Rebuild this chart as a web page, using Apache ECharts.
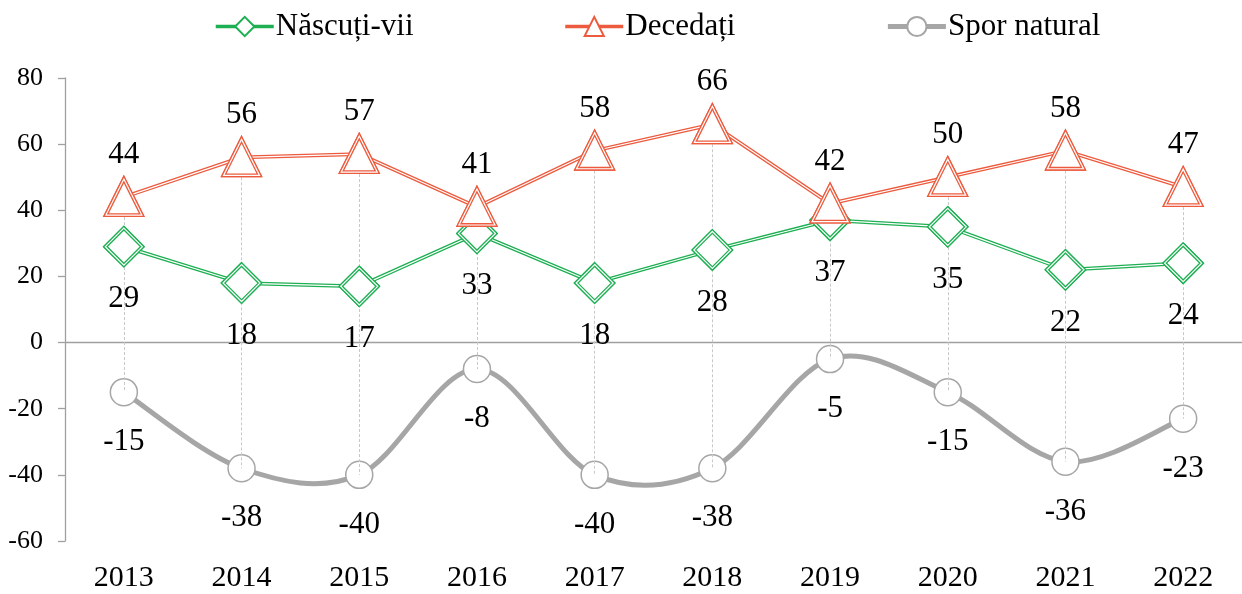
<!DOCTYPE html>
<html>
<head>
<meta charset="utf-8">
<script src="https://cdn.jsdelivr.net/npm/echarts@6/dist/echarts.min.js"></script>
<style>
html,body{margin:0;padding:0;background:#fff;}
#chart{width:1242px;height:594px;}
</style>
</head>
<body>
<div id="chart"></div>
<script>
const years = ['2013','2014','2015','2016','2017','2018','2019','2020','2021','2022'];
const nascuti = [29, 18, 17, 33, 18, 28, 37, 35, 22, 24];
const decedati = [44, 56, 57, 41, 58, 66, 42, 50, 58, 47];
const spor = [-15, -38, -40, -8, -40, -38, -5, -15, -36, -23];
const yTicks = { min: -60, max: 80, interval: 20 };

const GREEN = '#1DAF52';
const RED = '#EC5B3E';
const GRAY = '#A6A6A6';
const FONT = 'Liberation Serif';

const hiLo = years.map((y, i) => {
  const vals = [nascuti[i], decedati[i], spor[i]];
  return [{ coord: [y, Math.max(...vals)] }, { coord: [y, Math.min(...vals)] }];
});

function doubleLayers(name, data, color, symbol, size, labelPos, labelDist, zBase) {
  const lbl = {
    show: true, position: labelPos, distance: labelDist,
    fontFamily: FONT, fontSize: 31, color: '#000'
  };
  return [
    { name: name, type: 'line', data: data, z: zBase, symbol: symbol, symbolSize: size,
      lineStyle: { color: color, width: 3.8 },
      itemStyle: { color: '#fff', borderColor: color, borderWidth: 3.8 },
      silent: true },
    { name: name + '_w', type: 'line', data: data, z: zBase + 1, symbol: 'none',
      lineStyle: { color: '#fff', width: 1.2 }, silent: true },
    { name: name + '_m', type: 'line', data: data, z: zBase + 2, symbol: symbol, symbolSize: size,
      lineStyle: { opacity: 0, width: 0 },
      itemStyle: { color: '#fff', borderColor: color, borderWidth: 3.8 }, silent: true },
    { name: name + '_mi', type: 'line', data: data, z: zBase + 3, symbol: symbol, symbolSize: size,
      lineStyle: { opacity: 0, width: 0 },
      itemStyle: { color: 'rgba(0,0,0,0)', borderColor: '#fff', borderWidth: 1.2 },
      label: lbl, silent: true }
  ];
}

// Excel-like (Catmull-Rom) smoothed curve drawn through the axis scales
function smoothRender(params, api) {
  if (params.dataIndex !== 0) return null;
  const pts = spor.map((v, i) => api.coord([i, v]));
  const n = pts.length;
  const children = [];
  for (let i = 0; i < n - 1; i++) {
    const p0 = pts[Math.max(i - 1, 0)], p1 = pts[i], p2 = pts[i + 1], p3 = pts[Math.min(i + 2, n - 1)];
    children.push({
      type: 'bezierCurve',
      shape: {
        x1: p1[0], y1: p1[1], x2: p2[0], y2: p2[1],
        cpx1: p1[0] + (p2[0] - p0[0]) / 6, cpy1: p1[1] + (p2[1] - p0[1]) / 6,
        cpx2: p2[0] - (p3[0] - p1[0]) / 6, cpy2: p2[1] - (p3[1] - p1[1]) / 6
      },
      style: { stroke: GRAY, lineWidth: 5, fill: null, lineCap: 'round' }
    });
  }
  return { type: 'group', children: children };
}

const chart = echarts.init(document.getElementById('chart'));
chart.setOption({
  animation: false,
  backgroundColor: '#fff',
  textStyle: { fontFamily: FONT },
  legend: {
    data: [
      { name: 'Născuți-vii', lineStyle: { color: GREEN, width: 3.5, opacity: 1 } },
      { name: 'Decedați', lineStyle: { color: RED, width: 3.5, opacity: 1 } },
      { name: 'Spor natural', lineStyle: { color: GRAY, width: 5, opacity: 1 } }],
    left: 209, top: 6,
    itemWidth: 58, itemHeight: 24, itemGap: 150,
    textStyle: { fontFamily: FONT, fontSize: 31, color: '#000', padding: [0, 0, 0, -3] }
  },
  grid: { left: 65, top: 78, width: 1181, bottom: 53 },
  xAxis: {
    type: 'category', data: years, boundaryGap: true,
    axisLine: { show: false, onZero: false }, axisTick: { show: false },
    axisLabel: { fontFamily: FONT, fontSize: 30, color: '#000', margin: 22 }
  },
  yAxis: {
    type: 'value', min: yTicks.min, max: yTicks.max, interval: yTicks.interval,
    splitLine: { show: false },
    axisLine: { show: true, lineStyle: { color: '#A0A0A0', width: 1.3 } },
    axisTick: { show: true, length: 7, lineStyle: { color: '#A0A0A0', width: 1.3 } },
    axisLabel: { fontFamily: FONT, fontSize: 26, color: '#000', margin: 22 }
  },
  series: [
    { name: 'spor_curve', type: 'custom', data: spor.map((v, i) => [i, v]), z: 2,
      renderItem: smoothRender, silent: true },
    { name: 'Spor natural', type: 'line', data: spor, z: 2,
      symbol: 'circle', symbolSize: 27,
      lineStyle: { color: GRAY, width: 5, opacity: 0 },
      itemStyle: { color: '#fff', borderColor: GRAY, borderWidth: 1.5 },
      label: { show: true, position: 'bottom', distance: 20, fontFamily: FONT, fontSize: 31, color: '#000' },
      markLine: { silent: true, symbol: 'none', label: { show: false },
        lineStyle: { color: '#A0A0A0', width: 1.3, type: 'solid', opacity: 1 },
        data: [{ yAxis: 0 }] },
      silent: true },
    ...doubleLayers('Născuți-vii', nascuti, GREEN, 'diamond', 37, 'bottom', 18, 3),
    ...doubleLayers('Decedați', decedati, RED, 'triangle', 36, 'top', 8, 8),
    { name: 'hilo', type: 'line', data: spor, z: 20, symbol: 'none',
      lineStyle: { opacity: 0, width: 0 }, silent: true,
      markLine: { silent: true, symbol: 'none', label: { show: false },
        lineStyle: { color: '#C8C8C8', width: 1, type: [3, 2] },
        data: hiLo } }
  ]
});
</script>
</body>
</html>
